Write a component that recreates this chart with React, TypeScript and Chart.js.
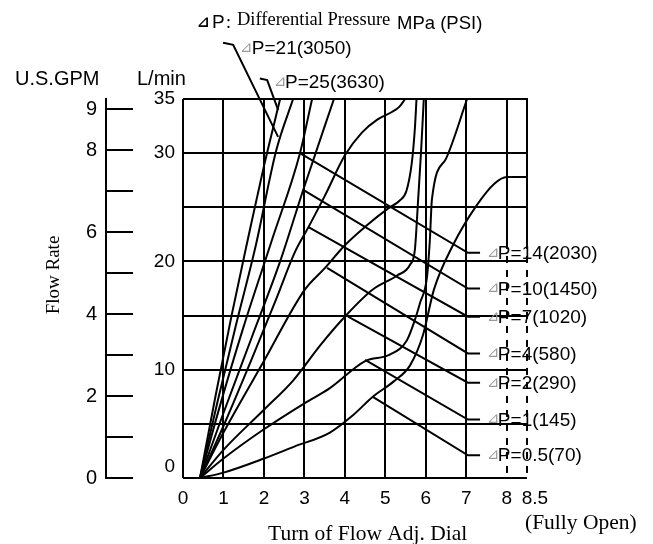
import React, { useEffect, useRef } from 'react';
import { Chart, registerables } from 'chart.js';

Chart.register(...registerables);

const SANS = '"Liberation Sans", Arial, sans-serif';
const SERIF = '"Liberation Serif", "Times New Roman", serif';

// ---- axes ----
const X_MIN = 0;
const X_MAX = 8.5;
const X_TICKS = [0, 1, 2, 3, 4, 5, 6, 7, 8, 8.5];
const Y_MIN = 0;
const Y_MAX = 35;
const Y_STEP = 5;
const Y_LABELED = [0, 10, 20, 30, 35];
const GPM_TICKS = [0, 1, 2, 3, 4, 5, 6, 7, 8, 9];
const GPM_LABELED = [0, 2, 4, 6, 8, 9];
const LPM_PER_GPM = 3.785411784;
const DASHED_X = [8, 8.5];
const DASH_FROM_Y = 21.8;

// ---- flow curves (turns, L/min) ----
const P25_X = [0.42, 0.8, 1.2, 1.6, 2.0, 2.4];
const P25_Y = [0, 7.5, 15, 22, 28.8, 35];
const P21_X = [0.42, 0.85, 1.3, 1.8, 2.3, 2.72];
const P21_Y = [0, 7, 14, 21.5, 30.2, 35];
const P14_X = [0.42, 0.9, 1.5, 2.2, 2.89, 3.19];
const P14_Y = [0, 6.5, 14, 22, 30, 35];
const P10_X = [0.42, 1.0, 1.7, 2.4, 2.97, 3.73];
const P10_Y = [0, 6, 13, 20, 26.6, 35];
const P7_X = [0.42, 1.0, 1.7, 2.3, 2.77, 3.09, 3.51, 4.0, 4.42, 4.8, 5.16, 5.35, 5.49];
const P7_Y = [0, 4.8, 11, 16.5, 20.9, 23.1, 26.1, 29.8, 31.9, 33.1, 33.8, 34.3, 35];
const P4_X = [0.42, 1.0, 2.0, 3.01, 3.51, 4.0, 4.5, 5.07, 5.35, 5.52, 5.65, 5.73, 5.77];
const P4_Y = [0, 4.2, 10.8, 17.4, 19.4, 21.5, 23.2, 24.9, 25.6, 26.5, 29, 32.3, 35];
const P2_X = [0.42, 1.0, 2.0, 2.72, 3.4, 4.05, 4.69, 5.29, 5.61, 5.73, 5.81, 5.88, 5.95];
const P2_Y = [0, 2.6, 6.3, 9, 12.3, 15.1, 17.4, 18.7, 19.7, 21.1, 25.7, 30, 35];
const P1_X = [0.42, 1.0, 2.0, 3.0, 3.63, 4.5, 5.11, 5.53, 5.73, 5.86, 6.03, 6.1, 6.15, 6.5, 7.02];
const P1_Y = [0, 1.8, 4.5, 6.9, 8.3, 10.8, 11.4, 12.7, 14.6, 16.2, 18.6, 22, 25.7, 29.5, 35];
const P05_X = [0.42, 1.0, 2.0, 2.75, 3.63, 4.2, 4.69, 5.2, 5.61, 5.93, 6.2, 6.67, 7.26, 7.7, 8.0, 8.5];
const P05_Y = [0, 0.5, 1.8, 2.9, 4.2, 5.8, 7.5, 8.9, 10.4, 13.2, 17.4, 21.5, 25.2, 27.2, 27.8, 27.8];

// ---- right-hand pressure labels and their leaders ----
const RIGHT_NAMES = ['14(2030)', '10(1450)', '7(1020)', '4(580)', '2(290)', '1(145)', '0.5(70)'];
const RIGHT_START_X = [2.89, 2.97, 3.09, 3.56, 4.08, 4.5, 4.69];
const RIGHT_START_Y = [30.0, 26.6, 23.2, 19.4, 14.9, 10.9, 7.5];
const RIGHT_END_Y = [20.8, 17.5, 14.9, 11.5, 8.8, 5.4, 2.1];
const RIGHT_ELBOW_X = 7.04;
const RIGHT_TAIL_X = 7.34;
const RIGHT_TRI_X = 7.51;
const RIGHT_TEXT_X = 7.78;

// ---- top pressure labels and their leaders ----
const TOP_NAMES = ['21(3050)', '25(3630)'];
const TOP_LEADER_X = [[0.99, 1.24, 2.35], [1.9, 2.08, 2.35]];
const TOP_LEADER_Y = [[40.2, 40.0, 31.5], [36.9, 36.75, 34.0]];
const TOP_TRI_X = [1.41, 2.25];
const TOP_TEXT_X = [1.70, 2.52];
const TOP_LABEL_Y = [39.7, 36.6];

const CURVES: [number[], number[]][] = [
  [P25_X, P25_Y], [P21_X, P21_Y], [P14_X, P14_Y], [P10_X, P10_Y], [P7_X, P7_Y],
  [P4_X, P4_Y], [P2_X, P2_Y], [P1_X, P1_Y], [P05_X, P05_Y],
];

const toPts = (xs: number[], ys: number[]) => xs.map((x, i) => ({ x, y: ys[i] }));

const overlay = {
  id: 'overlay',
  beforeDatasetsDraw(chart: any) {
    const { ctx } = chart;
    const xs = chart.scales.x, ys = chart.scales.y, gs = chart.scales.gpm;
    ctx.save();
    ctx.strokeStyle = '#000';
    ctx.lineWidth = 2;
    const top = ys.getPixelForValue(Y_MAX) - 1;
    const mid = ys.getPixelForValue(DASH_FROM_Y);
    const bot = ys.getPixelForValue(Y_MIN);
    for (const v of DASHED_X) {
      const px = Math.round(xs.getPixelForValue(v));
      ctx.setLineDash([]);
      ctx.beginPath(); ctx.moveTo(px, top); ctx.lineTo(px, mid); ctx.stroke();
      ctx.setLineDash([7, 7]);
      ctx.beginPath(); ctx.moveTo(px, mid); ctx.lineTo(px, bot); ctx.stroke();
    }
    ctx.setLineDash([]);
    // U.S.GPM axis line and ticks
    const ax = Math.round(gs.right);
    ctx.beginPath();
    ctx.moveTo(ax, Math.round(ys.getPixelForValue(Y_MAX)) - 1);
    ctx.lineTo(ax, Math.round(gs.getPixelForValue(0)) + 1);
    ctx.stroke();
    for (const t of GPM_TICKS) {
      const py = Math.round(gs.getPixelForValue(t));
      ctx.beginPath(); ctx.moveTo(ax, py); ctx.lineTo(ax + 27, py); ctx.stroke();
    }
    ctx.restore();
  },
  afterDraw(chart: any) {
    const { ctx } = chart;
    const xs = chart.scales.x, ys = chart.scales.y;
    ctx.save();
    ctx.textBaseline = 'middle';
    ctx.textAlign = 'left';
    const label = (triX: number, textX: number, yv: number, name: string) => {
      const y = ys.getPixelForValue(yv);
      ctx.font = `15px "DejaVu Sans", ${SANS}`;
      ctx.fillStyle = '#9a9a9a';
      ctx.fillText('⊿', xs.getPixelForValue(triX), y);
      ctx.font = `19px ${SANS}`;
      ctx.fillStyle = '#000';
      ctx.fillText('P=' + name, xs.getPixelForValue(textX), y + 1);
    };
    RIGHT_NAMES.forEach((n, i) => label(RIGHT_TRI_X, RIGHT_TEXT_X, RIGHT_END_Y[i], n));
    TOP_NAMES.forEach((n, i) => label(TOP_TRI_X[i], TOP_TEXT_X[i], TOP_LABEL_Y[i], n));

    // header
    ctx.textBaseline = 'alphabetic';
    ctx.fillStyle = '#000';
    ctx.font = `bold 15px "DejaVu Sans", ${SANS}`;
    ctx.fillText('⊿', 197, 27);
    ctx.font = `19px ${SANS}`;
    ctx.fillText('P', 212, 28);
    ctx.font = `18px ${SERIF}`;
    ctx.fillText(':', 226, 28);
    ctx.font = `18.5px ${SERIF}`;
    ctx.fillText('Differential Pressure', 237, 25);
    ctx.font = `18.5px ${SANS}`;
    ctx.fillText('MPa (PSI)', 397, 29);

    // axis headings
    ctx.textBaseline = 'middle';
    ctx.font = `20px ${SANS}`;
    ctx.fillText('U.S.GPM', 15, 79);
    ctx.fillText('L/min', 137, 79);

    ctx.font = `19px ${SERIF}`;
    ctx.save();
    ctx.translate(59, 275);
    ctx.rotate(-Math.PI / 2);
    ctx.textAlign = 'center';
    ctx.textBaseline = 'alphabetic';
    ctx.fillText('Flow Rate', 0, 0);
    ctx.restore();

    ctx.textBaseline = 'alphabetic';
    ctx.font = `21.5px ${SERIF}`;
    ctx.fillText('Turn of Flow Adj. Dial', 268, 540);
    ctx.fillText('(Fully Open)', 525, 529);
    ctx.restore();
  },
};

export default function App() {
  const ref = useRef<HTMLCanvasElement | null>(null);

  useEffect(() => {
    const canvas = ref.current;
    if (!canvas) return;

    const datasets: any[] = [];
    CURVES.forEach(([xs, ys]) => {
      datasets.push({
        data: toPts(xs, ys),
        borderColor: '#000',
        borderWidth: 2,
        pointRadius: 0,
        cubicInterpolationMode: 'monotone',
        tension: 0.4,
        fill: false,
        xAxisID: 'x',
        yAxisID: 'y',
      });
    });
    RIGHT_NAMES.forEach((_, i) => {
      datasets.push({
        data: toPts(
          [RIGHT_START_X[i], RIGHT_ELBOW_X, RIGHT_TAIL_X],
          [RIGHT_START_Y[i], RIGHT_END_Y[i], RIGHT_END_Y[i]]
        ),
        borderColor: '#000',
        borderWidth: 2,
        pointRadius: 0,
        tension: 0,
        fill: false,
        xAxisID: 'x',
        yAxisID: 'y',
      });
    });
    TOP_NAMES.forEach((_, i) => {
      datasets.push({
        data: toPts(TOP_LEADER_X[i], TOP_LEADER_Y[i]),
        borderColor: '#000',
        borderWidth: 2,
        pointRadius: 0,
        tension: 0,
        fill: false,
        clip: false,
        xAxisID: 'x',
        yAxisID: 'y',
      });
    });

    const chart = new Chart(canvas, {
      type: 'line',
      data: { datasets },
      options: {
        animation: false,
        responsive: false,
        events: [],
        layout: { padding: { top: 99, right: 126, left: 0, bottom: 0 } },
        plugins: {
          legend: { display: false },
          tooltip: { enabled: false },
          title: { display: false },
        },
        scales: {
          x: {
            type: 'linear',
            position: 'bottom',
            min: X_MIN,
            max: X_MAX,
            afterBuildTicks: (s: any) => { s.ticks = X_TICKS.map((v) => ({ value: v })); },
            afterFit: (s: any) => { s.height = 66; },
            grid: {
              color: (c: any) => (c.tick && DASHED_X.includes(c.tick.value) ? 'rgba(0,0,0,0)' : '#000'),
              lineWidth: 2,
              drawTicks: false,
            },
            border: { display: false },
            ticks: {
              autoSkip: false,
              maxRotation: 0,
              minRotation: 0,
              padding: 9,
              color: '#000',
              font: { family: SANS, size: 19 },
              callback: (v: any) => (v === 8.5 ? '   8.5' : String(v)),
            },
          },
          y: {
            type: 'linear',
            position: 'left',
            min: Y_MIN,
            max: Y_MAX,
            weight: 0,
            afterFit: (s: any) => { s.width = 77; },
            grid: { color: '#000', lineWidth: 2, drawTicks: false },
            border: { display: false },
            ticks: {
              stepSize: Y_STEP,
              autoSkip: false,
              padding: 8,
              color: '#000',
              font: { family: SANS, size: 19 },
              callback: (v: any) => (v === 0 ? ['0', ''] : Y_LABELED.includes(v) ? String(v) : ''),
            },
          },
          gpm: {
            type: 'linear',
            position: 'left',
            min: 0,
            max: Y_MAX / LPM_PER_GPM,
            weight: 10,
            afterBuildTicks: (s: any) => { s.ticks = GPM_TICKS.map((v) => ({ value: v })); },
            afterFit: (s: any) => { s.width = 106; },
            grid: { display: false, drawTicks: false },
            border: { display: false },
            ticks: {
              autoSkip: false,
              padding: 9,
              color: '#000',
              font: { family: SANS, size: 20 },
              callback: (v: any) => (GPM_LABELED.includes(v) ? String(v) : ''),
            },
          },
        },
      } as any,
      plugins: [overlay],
    });

    return () => chart.destroy();
  }, []);

  return (
    <div style={{ position: 'absolute', left: 0, top: 0, width: 653, height: 544, background: '#fff' }}>
      <canvas ref={ref} width={653} height={544} style={{ display: 'block' }} />
    </div>
  );
}
